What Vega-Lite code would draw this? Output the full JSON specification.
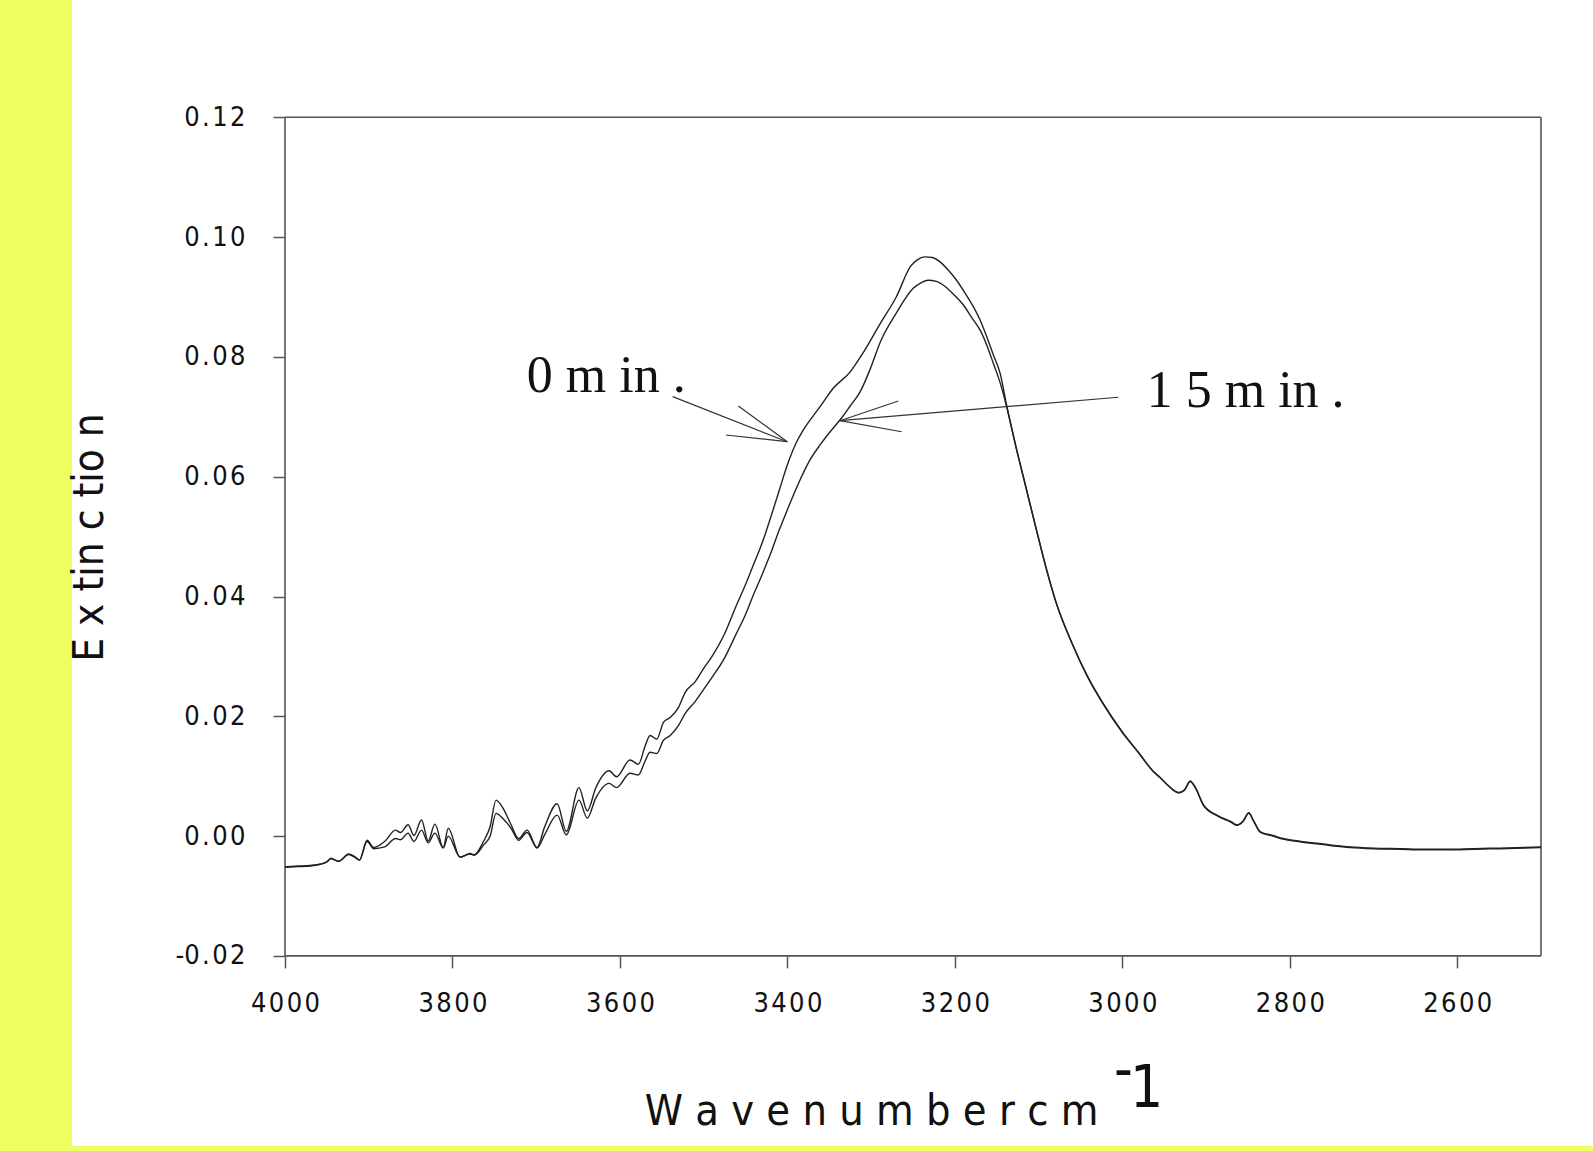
{
  "$schema": "https://vega.github.io/schema/vega-lite/v6.json",
  "background": "#efff63",
  "autosize": {"type": "none"},
  "padding": {"left": 72, "top": 0, "right": 0, "bottom": 5},
  "width": 1521,
  "height": 1146,
  "config": {"view": {"fill": "white", "stroke": null}},
  "datasets": {
    "spectra": [
      {"series": "0 min", "w": 4000, "v": -0.0051}, {"series": "0 min", "w": 3985, "v": -0.005}, {"series": "0 min", "w": 3970, "v": -0.0049}, {"series": "0 min", "w": 3958, "v": -0.0047}, {"series": "0 min", "w": 3950, "v": -0.0043}, {"series": "0 min", "w": 3945, "v": -0.0037}, {"series": "0 min", "w": 3936, "v": -0.0042}, {"series": "0 min", "w": 3924, "v": -0.003}, {"series": "0 min", "w": 3917, "v": -0.0034}, {"series": "0 min", "w": 3911, "v": -0.004}, {"series": "0 min", "w": 3902, "v": -0.0007}, {"series": "0 min", "w": 3894, "v": -0.0019},
      {"series": "0 min", "w": 3881, "v": -0.0009}, {"series": "0 min", "w": 3868, "v": 0.001}, {"series": "0 min", "w": 3862, "v": 0.0006}, {"series": "0 min", "w": 3853, "v": 0.0019}, {"series": "0 min", "w": 3846, "v": 0.0001}, {"series": "0 min", "w": 3837, "v": 0.0027}, {"series": "0 min", "w": 3829, "v": -0.0008}, {"series": "0 min", "w": 3821, "v": 0.002}, {"series": "0 min", "w": 3811, "v": -0.0019}, {"series": "0 min", "w": 3805, "v": 0.0013}, {"series": "0 min", "w": 3791, "v": -0.0035}, {"series": "0 min", "w": 3779, "v": -0.0029}, {"series": "0 min", "w": 3774, "v": -0.0031}, {"series": "0 min", "w": 3763, "v": -0.0009}, {"series": "0 min", "w": 3755, "v": 0.0016}, {"series": "0 min", "w": 3748, "v": 0.006}, {"series": "0 min", "w": 3739, "v": 0.0045}, {"series": "0 min", "w": 3730, "v": 0.0019}, {"series": "0 min", "w": 3721, "v": -0.0004}, {"series": "0 min", "w": 3711, "v": 0.001}, {"series": "0 min", "w": 3699, "v": -0.0019}, {"series": "0 min", "w": 3690, "v": 0.0015}, {"series": "0 min", "w": 3675, "v": 0.0054}, {"series": "0 min", "w": 3664, "v": 0.0008}, {"series": "0 min", "w": 3649, "v": 0.0081}, {"series": "0 min", "w": 3639, "v": 0.0042}, {"series": "0 min", "w": 3629, "v": 0.008}, {"series": "0 min", "w": 3613, "v": 0.0109}, {"series": "0 min", "w": 3604, "v": 0.0099}, {"series": "0 min", "w": 3588, "v": 0.0127}, {"series": "0 min", "w": 3578, "v": 0.012}, {"series": "0 min", "w": 3570, "v": 0.015}, {"series": "0 min", "w": 3564, "v": 0.0168}, {"series": "0 min", "w": 3556, "v": 0.0162}, {"series": "0 min", "w": 3548, "v": 0.019}, {"series": "0 min", "w": 3540, "v": 0.0198}, {"series": "0 min", "w": 3530, "v": 0.0215}, {"series": "0 min", "w": 3522, "v": 0.024}, {"series": "0 min", "w": 3510, "v": 0.0258}, {"series": "0 min", "w": 3500, "v": 0.028}, {"series": "0 min", "w": 3490, "v": 0.03}, {"series": "0 min", "w": 3476, "v": 0.0335}, {"series": "0 min", "w": 3461, "v": 0.0385}, {"series": "0 min", "w": 3450, "v": 0.042}, {"series": "0 min", "w": 3442, "v": 0.0448}, {"series": "0 min", "w": 3430, "v": 0.049}, {"series": "0 min", "w": 3420, "v": 0.0532}, {"series": "0 min", "w": 3410, "v": 0.0576}, {"series": "0 min", "w": 3400, "v": 0.062}, {"series": "0 min", "w": 3390, "v": 0.0655}, {"series": "0 min", "w": 3381, "v": 0.0678}, {"series": "0 min", "w": 3370, "v": 0.07}, {"series": "0 min", "w": 3361, "v": 0.0717}, {"series": "0 min", "w": 3345, "v": 0.0748}, {"series": "0 min", "w": 3325, "v": 0.0775}, {"series": "0 min", "w": 3310, "v": 0.0806}, {"series": "0 min", "w": 3289, "v": 0.0856}, {"series": "0 min", "w": 3270, "v": 0.09}, {"series": "0 min", "w": 3253, "v": 0.0951}, {"series": "0 min", "w": 3245, "v": 0.0962}, {"series": "0 min", "w": 3236, "v": 0.0967}, {"series": "0 min", "w": 3227, "v": 0.0966}, {"series": "0 min", "w": 3218, "v": 0.0959}, {"series": "0 min", "w": 3208, "v": 0.0945}, {"series": "0 min", "w": 3198, "v": 0.0928}, {"series": "0 min", "w": 3188, "v": 0.0907}, {"series": "0 min", "w": 3178, "v": 0.0884}, {"series": "0 min", "w": 3170, "v": 0.0862}, {"series": "0 min", "w": 3162, "v": 0.0834}, {"series": "0 min", "w": 3154, "v": 0.0803}, {"series": "0 min", "w": 3146, "v": 0.0773},
      {"series": "0 min", "w": 3138, "v": 0.0718}, {"series": "0 min", "w": 3127, "v": 0.065}, {"series": "0 min", "w": 3115, "v": 0.0582}, {"series": "0 min", "w": 3103, "v": 0.0514}, {"series": "0 min", "w": 3091, "v": 0.0448}, {"series": "0 min", "w": 3079, "v": 0.039}, {"series": "0 min", "w": 3060, "v": 0.0322}, {"series": "0 min", "w": 3042, "v": 0.0268}, {"series": "0 min", "w": 3024, "v": 0.0224}, {"series": "0 min", "w": 3000, "v": 0.0174}, {"series": "0 min", "w": 2981, "v": 0.014}, {"series": "0 min", "w": 2963, "v": 0.0108}, {"series": "0 min", "w": 2955, "v": 0.0098}, {"series": "0 min", "w": 2945, "v": 0.0084}, {"series": "0 min", "w": 2933, "v": 0.0073}, {"series": "0 min", "w": 2926, "v": 0.0077}, {"series": "0 min", "w": 2919, "v": 0.0092}, {"series": "0 min", "w": 2913, "v": 0.0082}, {"series": "0 min", "w": 2903, "v": 0.0052}, {"series": "0 min", "w": 2887, "v": 0.0035}, {"series": "0 min", "w": 2870, "v": 0.0024}, {"series": "0 min", "w": 2863, "v": 0.0019}, {"series": "0 min", "w": 2856, "v": 0.0025}, {"series": "0 min", "w": 2849, "v": 0.0039}, {"series": "0 min", "w": 2843, "v": 0.0025}, {"series": "0 min", "w": 2835, "v": 0.0007}, {"series": "0 min", "w": 2820, "v": 0.0001}, {"series": "0 min", "w": 2808, "v": -0.0004}, {"series": "0 min", "w": 2790, "v": -0.0008}, {"series": "0 min", "w": 2768, "v": -0.0012}, {"series": "0 min", "w": 2750, "v": -0.0015}, {"series": "0 min", "w": 2728, "v": -0.0018}, {"series": "0 min", "w": 2700, "v": -0.002}, {"series": "0 min", "w": 2668, "v": -0.0021}, {"series": "0 min", "w": 2640, "v": -0.0022}, {"series": "0 min", "w": 2613, "v": -0.0022}, {"series": "0 min", "w": 2580, "v": -0.0021}, {"series": "0 min", "w": 2549, "v": -0.002}, {"series": "0 min", "w": 2520, "v": -0.0019}, {"series": "0 min", "w": 2500, "v": -0.0018},
      {"series": "15 min", "w": 4000, "v": -0.0052}, {"series": "15 min", "w": 3985, "v": -0.0051}, {"series": "15 min", "w": 3970, "v": -0.005}, {"series": "15 min", "w": 3958, "v": -0.0047}, {"series": "15 min", "w": 3950, "v": -0.0043}, {"series": "15 min", "w": 3945, "v": -0.0038}, {"series": "15 min", "w": 3936, "v": -0.0042}, {"series": "15 min", "w": 3924, "v": -0.0031}, {"series": "15 min", "w": 3917, "v": -0.0035}, {"series": "15 min", "w": 3911, "v": -0.004}, {"series": "15 min", "w": 3902, "v": -0.0009}, {"series": "15 min", "w": 3894, "v": -0.0021},
      {"series": "15 min", "w": 3881, "v": -0.0018}, {"series": "15 min", "w": 3868, "v": -0.0004}, {"series": "15 min", "w": 3862, "v": -0.0006}, {"series": "15 min", "w": 3853, "v": 0.0005}, {"series": "15 min", "w": 3846, "v": -0.0009}, {"series": "15 min", "w": 3837, "v": 0.001}, {"series": "15 min", "w": 3829, "v": -0.0011}, {"series": "15 min", "w": 3821, "v": 0.0005}, {"series": "15 min", "w": 3811, "v": -0.002}, {"series": "15 min", "w": 3805, "v": 0.0}, {"series": "15 min", "w": 3791, "v": -0.0035}, {"series": "15 min", "w": 3779, "v": -0.003}, {"series": "15 min", "w": 3774, "v": -0.0032}, {"series": "15 min", "w": 3763, "v": -0.0015}, {"series": "15 min", "w": 3755, "v": 0.0}, {"series": "15 min", "w": 3748, "v": 0.0038}, {"series": "15 min", "w": 3739, "v": 0.0028}, {"series": "15 min", "w": 3730, "v": 0.0013}, {"series": "15 min", "w": 3721, "v": -0.0007}, {"series": "15 min", "w": 3711, "v": 0.0006}, {"series": "15 min", "w": 3699, "v": -0.002}, {"series": "15 min", "w": 3690, "v": 0.0002}, {"series": "15 min", "w": 3675, "v": 0.0035}, {"series": "15 min", "w": 3664, "v": 0.0002}, {"series": "15 min", "w": 3649, "v": 0.006}, {"series": "15 min", "w": 3639, "v": 0.003}, {"series": "15 min", "w": 3629, "v": 0.0063}, {"series": "15 min", "w": 3613, "v": 0.0088}, {"series": "15 min", "w": 3604, "v": 0.0081}, {"series": "15 min", "w": 3588, "v": 0.0105}, {"series": "15 min", "w": 3578, "v": 0.0102}, {"series": "15 min", "w": 3570, "v": 0.0125}, {"series": "15 min", "w": 3564, "v": 0.014}, {"series": "15 min", "w": 3556, "v": 0.0138}, {"series": "15 min", "w": 3548, "v": 0.016}, {"series": "15 min", "w": 3540, "v": 0.0168}, {"series": "15 min", "w": 3530, "v": 0.0185}, {"series": "15 min", "w": 3522, "v": 0.0205}, {"series": "15 min", "w": 3510, "v": 0.0225}, {"series": "15 min", "w": 3500, "v": 0.0245}, {"series": "15 min", "w": 3490, "v": 0.0265}, {"series": "15 min", "w": 3476, "v": 0.0295}, {"series": "15 min", "w": 3461, "v": 0.0338}, {"series": "15 min", "w": 3450, "v": 0.037}, {"series": "15 min", "w": 3442, "v": 0.0398}, {"series": "15 min", "w": 3430, "v": 0.0437}, {"series": "15 min", "w": 3420, "v": 0.0472}, {"series": "15 min", "w": 3410, "v": 0.051}, {"series": "15 min", "w": 3400, "v": 0.0545}, {"series": "15 min", "w": 3388, "v": 0.0585}, {"series": "15 min", "w": 3373, "v": 0.0628}, {"series": "15 min", "w": 3361, "v": 0.0653}, {"series": "15 min", "w": 3349, "v": 0.0675}, {"series": "15 min", "w": 3337, "v": 0.0695}, {"series": "15 min", "w": 3325, "v": 0.0718}, {"series": "15 min", "w": 3313, "v": 0.0742}, {"series": "15 min", "w": 3301, "v": 0.078}, {"series": "15 min", "w": 3289, "v": 0.0825}, {"series": "15 min", "w": 3270, "v": 0.0873}, {"series": "15 min", "w": 3250, "v": 0.0914}, {"series": "15 min", "w": 3240, "v": 0.0924}, {"series": "15 min", "w": 3232, "v": 0.0928}, {"series": "15 min", "w": 3222, "v": 0.0926}, {"series": "15 min", "w": 3214, "v": 0.092}, {"series": "15 min", "w": 3202, "v": 0.0905}, {"series": "15 min", "w": 3190, "v": 0.0887}, {"series": "15 min", "w": 3180, "v": 0.0866}, {"series": "15 min", "w": 3170, "v": 0.0845}, {"series": "15 min", "w": 3162, "v": 0.082}, {"series": "15 min", "w": 3154, "v": 0.0789}, {"series": "15 min", "w": 3146, "v": 0.0757},
      {"series": "15 min", "w": 3138, "v": 0.0716}, {"series": "15 min", "w": 3127, "v": 0.0649}, {"series": "15 min", "w": 3115, "v": 0.0581}, {"series": "15 min", "w": 3103, "v": 0.0513}, {"series": "15 min", "w": 3091, "v": 0.0447}, {"series": "15 min", "w": 3079, "v": 0.0389}, {"series": "15 min", "w": 3060, "v": 0.0321}, {"series": "15 min", "w": 3042, "v": 0.0267}, {"series": "15 min", "w": 3024, "v": 0.0223}, {"series": "15 min", "w": 3000, "v": 0.0173}, {"series": "15 min", "w": 2981, "v": 0.014}, {"series": "15 min", "w": 2963, "v": 0.0108}, {"series": "15 min", "w": 2955, "v": 0.0098}, {"series": "15 min", "w": 2945, "v": 0.0084}, {"series": "15 min", "w": 2933, "v": 0.0072}, {"series": "15 min", "w": 2926, "v": 0.0076}, {"series": "15 min", "w": 2919, "v": 0.0091}, {"series": "15 min", "w": 2913, "v": 0.0081}, {"series": "15 min", "w": 2903, "v": 0.0051}, {"series": "15 min", "w": 2887, "v": 0.0034}, {"series": "15 min", "w": 2870, "v": 0.0023}, {"series": "15 min", "w": 2863, "v": 0.0018}, {"series": "15 min", "w": 2856, "v": 0.0024}, {"series": "15 min", "w": 2849, "v": 0.0038}, {"series": "15 min", "w": 2843, "v": 0.0024}, {"series": "15 min", "w": 2835, "v": 0.0006}, {"series": "15 min", "w": 2820, "v": 0.0}, {"series": "15 min", "w": 2808, "v": -0.0005}, {"series": "15 min", "w": 2790, "v": -0.0009}, {"series": "15 min", "w": 2768, "v": -0.0013}, {"series": "15 min", "w": 2750, "v": -0.0016}, {"series": "15 min", "w": 2728, "v": -0.0019}, {"series": "15 min", "w": 2700, "v": -0.0021}, {"series": "15 min", "w": 2668, "v": -0.0022}, {"series": "15 min", "w": 2640, "v": -0.0023}, {"series": "15 min", "w": 2613, "v": -0.0023}, {"series": "15 min", "w": 2580, "v": -0.0022}, {"series": "15 min", "w": 2549, "v": -0.0021}, {"series": "15 min", "w": 2520, "v": -0.002}, {"series": "15 min", "w": 2500, "v": -0.0019}
    ],
    "segments": [
      {"kind": "frame", "w": 4000, "v": -0.02, "w2": 2500, "v2": -0.02},
      {"kind": "frame", "w": 4000, "v": 0.12, "w2": 2500, "v2": 0.12},
      {"kind": "frame", "w": 4000, "v": -0.02, "w2": 4000, "v2": 0.12},
      {"kind": "frame", "w": 2500, "v": -0.02, "w2": 2500, "v2": 0.12},
      {"kind": "arrow", "w": 3537, "v": 0.07336, "w2": 3400.1, "v2": 0.06584},
      {"kind": "arrow", "w": 3458.6, "v": 0.0718, "w2": 3400.1, "v2": 0.06584},
      {"kind": "arrow", "w": 3473.3, "v": 0.06696, "w2": 3400.1, "v2": 0.06584},
      {"kind": "arrow", "w": 3004.8, "v": 0.07326, "w2": 3337.2, "v2": 0.06935},
      {"kind": "arrow", "w": 3267.5, "v": 0.07264, "w2": 3337.2, "v2": 0.06935},
      {"kind": "arrow", "w": 3263.6, "v": 0.06751, "w2": 3337.2, "v2": 0.06935}
    ],
    "notes": [
      {"kind": "serif", "w": 3711.3, "v": 0.07419, "text": "0 m in ."},
      {"kind": "serif", "w": 2970.9, "v": 0.07169, "text": "1 5 m in ."},
      {"kind": "sup", "w": 3009.9, "v": -0.04222, "text": "-"},
      {"kind": "sup", "w": 2990.8, "v": -0.04522, "text": "1"}
    ]
  },
  "encoding": {
    "x": {
      "field": "w", "type": "quantitative",
      "scale": {"domain": [2437.9, 4254.38], "reverse": true, "nice": false, "zero": false},
      "axis": {
        "title": "W a v e n u m b e r c m",
        "values": [4000, 3800, 3600, 3400, 3200, 3000, 2800, 2600],
        "labelExpr": "replace(format(datum.value, 'd'), regexp('(?!^)(?=.)', 'g'), '\u200a')",
        "offset": -190.1, "domain": false, "grid": false,
        "tickSize": 12, "tickColor": "#555555", "tickWidth": 1.5,
        "labelFont": "DejaVu Sans Condensed, sans-serif", "labelFontSize": 27, "labelColor": "#111111", "labelPadding": 23,
        "titleFont": "DejaVu Sans Condensed, sans-serif", "titleFontSize": 43, "titleFontWeight": "normal", "titleColor": "#111111",
        "titleX": 799, "titleY": 169, "titleBaseline": "alphabetic", "titleAlign": "center"
      }
    },
    "y": {
      "field": "v", "type": "quantitative",
      "scale": {"domain": [-0.051736, 0.139583], "nice": false, "zero": false},
      "axis": {
        "title": "E x tin c tio n",
        "values": [-0.02, 0, 0.02, 0.04, 0.06, 0.08, 0.1, 0.12],
        "labelExpr": "datum.value < 0 ? '-0\u200a.\u200a0\u200a2' : replace(format(datum.value, '.2f'), regexp('(?!^)(?=.)', 'g'), '\u200a')",
        "offset": -213, "domain": false, "grid": false,
        "tickSize": 12, "tickColor": "#555555", "tickWidth": 1.5,
        "labelFont": "DejaVu Sans Condensed, sans-serif", "labelFontSize": 27, "labelColor": "#111111", "labelPadding": 28,
        "titleFont": "DejaVu Sans Condensed, sans-serif", "titleFontSize": 42, "titleFontWeight": "normal", "titleColor": "#111111",
        "titleX": -183, "titleY": 537, "titleAngle": 270, "titleBaseline": "alphabetic", "titleAlign": "center"
      }
    }
  },
  "layer": [
    {
      "data": {"name": "segments"},
      "transform": [{"filter": "datum.kind == 'frame'"}],
      "mark": {"type": "rule", "color": "#555555", "strokeWidth": 1.6},
      "encoding": {"x2": {"field": "w2"}, "y2": {"field": "v2"}}
    },
    {
      "data": {"name": "spectra"},
      "mark": {"type": "line", "color": "#222222", "strokeWidth": 1.4, "interpolate": "monotone"},
      "encoding": {"detail": {"field": "series", "type": "nominal"}}
    },
    {
      "data": {"name": "segments"},
      "transform": [{"filter": "datum.kind == 'arrow'"}],
      "mark": {"type": "rule", "color": "#333333", "strokeWidth": 1.2},
      "encoding": {"x2": {"field": "w2"}, "y2": {"field": "v2"}}
    },
    {
      "data": {"name": "notes"},
      "transform": [{"filter": "datum.kind == 'serif'"}],
      "mark": {"type": "text", "font": "Liberation Serif, serif", "fontSize": 52, "align": "left", "baseline": "alphabetic", "color": "#111111"},
      "encoding": {"text": {"field": "text"}}
    },
    {
      "data": {"name": "notes"},
      "transform": [{"filter": "datum.kind == 'sup'"}],
      "mark": {"type": "text", "font": "DejaVu Sans Condensed, sans-serif", "fontSize": 58, "align": "left", "baseline": "alphabetic", "color": "#111111"},
      "encoding": {"text": {"field": "text"}}
    }
  ]
}
